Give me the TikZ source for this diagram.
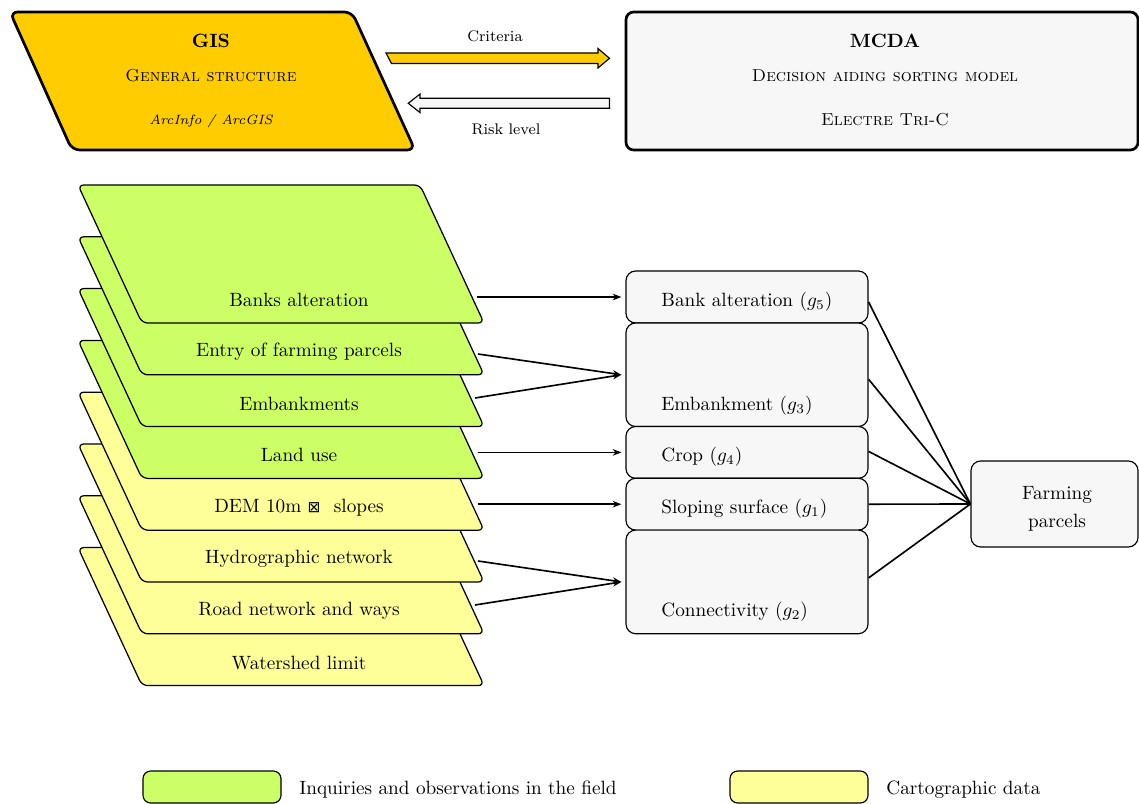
\documentclass[tikz,border=0pt]{standalone}
\usepackage{fontspec}
\newfontfamily\dejavu{DejaVu Sans}
\usetikzlibrary{arrows.meta,calc,fit}
\definecolor{gold}{HTML}{FFCC00}
\definecolor{lgreen}{HTML}{CCFF66}
\definecolor{lyellow}{HTML}{FFFF99}
\definecolor{lgrey}{HTML}{F7F7F7}
\newcommand\layer[4]{%
  \draw[layerbox, fill=#2] (78,#1) -- (420,#1) -- (484,#1+138) -- (142,#1+138) -- cycle;
  \node[layertext] (#3) at (299,#1+115) {#4};
}
\begin{document}
\begin{tikzpicture}[x=0.52pt,y=-0.52pt,
  layerbox/.style={draw=black, line width=0.65pt, rounded corners=3pt},
  layertext/.style={inner sep=0pt},
  critbox/.style={draw=black, line width=0.6pt, fill=lgrey, rounded corners=5pt, inner sep=0pt},
  bigbox/.style={draw=black, line width=1.4pt, rounded corners=4pt},
  flatarrow/.style={draw=black, line width=0.6pt},
  conn/.style={line width=0.85pt, -{Stealth[length=4.5pt,width=3.4pt,inset=1.4pt]}},
  link/.style={line width=0.85pt},
  lbl/.style={inner sep=0pt, anchor=west},
  sctext/.style={font=\small\scshape},
  legbox/.style={draw=black, line width=0.6pt, rounded corners=4pt, inner sep=0pt}]
\useasboundingbox (0,0) rectangle (1139,804);

% ---------- top: GIS / MCDA ----------
\draw[bigbox, fill=gold] (10,12) -- (352,12) -- (415,150) -- (72,150) -- cycle;
\node (gis) at (211,41) {\textbf{GIS}};
\node[sctext] (gisstruct) at (211,76) {General structure};
\node (arc) at (211,121) {\scriptsize\itshape ArcInfo / ArcGIS};

\node[bigbox, fill=lgrey, inner sep=0pt, fit={(626,12) (1138,150)}] (mcda) {};
\node (mcdat) at (885,41) {\textbf{MCDA}};
\node[sctext] (dasm) at (885,76) {Decision aiding sorting model};
\node[sctext] (etc) at (885,120) {Electre Tri-C};

\draw[flatarrow, fill=gold] (386,53) -- (598,53) -- (598,48.5) -- (609.5,58.3) -- (598,68) -- (598,63.5) -- (391.5,63.5) -- cycle;
\node (crit) at (495,36) {\footnotesize Criteria};
\draw[flatarrow, fill=lgrey] (609.5,98.3) -- (420,98.3) -- (420,94) -- (408.3,103.3) -- (420,112.6) -- (420,108.3) -- (609.5,108.3) -- cycle;
\node (risk) at (506,129) {\footnotesize Risk level};

% ---------- layers (bottom first) ----------
\layer{547.6}{lyellow}{water}{Watershed limit}
\layer{495.8}{lyellow}{road}{Road network and ways}
\layer{444.0}{lyellow}{hydro}{Hydrographic network}
\layer{392.2}{lyellow}{dem}{DEM 10m\hspace{3.2pt}{\dejavu\footnotesize ⊠}\hspace{7pt}slopes}
\layer{340.4}{lgreen}{land}{Land use}
\layer{288.6}{lgreen}{emb}{Embankments}
\layer{236.8}{lgreen}{entry}{Entry of farming parcels}
\layer{185.0}{lgreen}{banks}{Banks alteration}

% ---------- criteria ----------
\node[critbox, fit={(626,271) (868,323)}] (g5) {};
\node[critbox, fit={(626,323) (868,426.5)}] (g3) {};
\node[critbox, fit={(626,426.5) (868,478.3)}] (g4) {};
\node[critbox, fit={(626,478.3) (868,530.1)}] (g1) {};
\node[critbox, fit={(626,530.1) (868,633.7)}] (g2) {};
\node[lbl] (g5t) at (661,301.5) {Bank alteration ($g_5$)};
\node[lbl] (g3t) at (661,405.5) {Embankment ($g_3$)};
\node[lbl] (g4t) at (661,457) {Crop ($g_4$)};
\node[lbl] (g1t) at (661,508.5) {Sloping surface ($g_1$)};
\node[lbl] (g2t) at (661,611.5) {Connectivity ($g_2$)};

\node[critbox, fit={(971,461) (1138,547)}] (farm) {};
\node[align=center] (farmt) at (1057,509) {Farming\\[2.6pt]parcels};

% ---------- connectors ----------
\coordinate (s1) at (477,298);
\coordinate (s2) at (478,354);
\coordinate (s3) at (475,398);
\coordinate (s4) at (478,453);
\coordinate (s5) at (478,503);
\coordinate (s6) at (478,561);
\coordinate (s7) at (475,605);

\draw[conn] (s1 |- g5.west) -- ($(g5.west)+(-4,0)$);
\draw[conn] (s2) -- ($(g3.west)+(-4,0)$);
\draw[conn] (s3) -- ($(g3.west)+(-4,0)$);
\draw[conn] (s4 |- g4.west) -- ($(g4.west)+(-4,0)$);
\draw[conn] (s5 |- g1.west) -- ($(g1.west)+(-4,0)$);
\draw[conn] (s6) -- ($(g2.west)+(-4,0)$);
\draw[conn] (s7) -- ($(g2.west)+(-4,0)$);

\draw[link] ($(g5.east)+(0,5)$) -- (farm.west);
\draw[link] ($(g3.east)+(0,4.5)$) -- (farm.west);
\draw[link] ($(g4.east)+(0,-1)$) -- (farm.west);
\draw[link] (g1.east) -- (farm.west);
\draw[link] ($(g2.east)+(0,-4)$) -- (farm.west);

% ---------- legend ----------
\node[legbox, fill=lgreen, fit={(143,771) (281,803)}] (leg1) {};
\node[lbl] (leg1t) at (299,790) {Inquiries and observations in the field};
\node[legbox, fill=lyellow, fit={(730,771) (868,803)}] (leg2) {};
\node[lbl] (leg2t) at (886,790) {Cartographic data};
\end{tikzpicture}
\end{document}
